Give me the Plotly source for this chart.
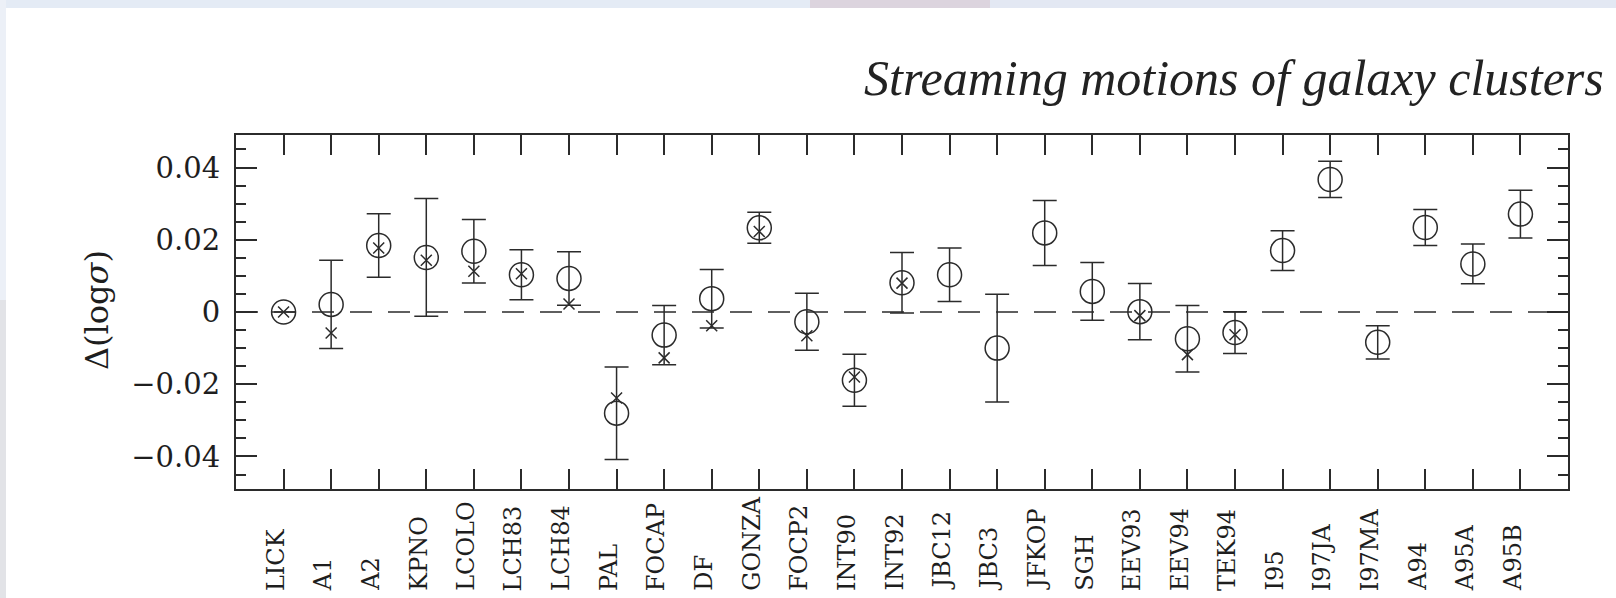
import plotly.graph_objects as go

# Telescope / run identifiers along the x axis
labels = ["LICK", "A1", "A2", "KPNO", "LCOLO", "LCH83", "LCH84", "PAL", "FOCAP",
          "DF", "GONZA", "FOCP2", "INT90", "INT92", "JBC12", "JBC3", "JFKOP",
          "SGH", "EEV93", "EEV94", "TEK94", "I95", "I97JA", "I97MA", "A94",
          "A95A", "A95B"]

# Offset in log(sigma) per run (open circles) and its 1-sigma error
offset = [0.0, 0.0021, 0.0184, 0.0151, 0.0168, 0.0103, 0.0093, -0.0280, -0.0064,
          0.0037, 0.0233, -0.0027, -0.0189, 0.0081, 0.0103, -0.0100, 0.0219,
          0.0057, 0.0001, -0.0074, -0.0057, 0.0170, 0.0367, -0.0084, 0.0234,
          0.0133, 0.0271]
offset_err = [None, 0.0122, 0.0088, 0.0163, 0.0088, 0.0069, 0.0074, 0.0128, 0.0082,
              0.0081, 0.0043, 0.0079, 0.0072, 0.0084, 0.0074, 0.0149, 0.0090,
              0.0080, 0.0078, 0.0092, 0.0058, 0.0055, 0.0050, 0.0046, 0.0050,
              0.0055, 0.0066]

# Alternative offset estimate (crosses), only available for some runs
offset_alt = [0.0, -0.0058, 0.0177, 0.0143, 0.0113, 0.0106, 0.0022, -0.0238, -0.0127,
              -0.0038, 0.0223, -0.0066, -0.0180, 0.0080, None, None, None,
              None, -0.0010, -0.0118, -0.0063, None, None, None, None,
              None, None]

y_ticks = [-0.04, -0.02, 0, 0.02, 0.04]
y_tick_text = ["−0.04", "−0.02", "0", "0.02", "0.04"]

W, H = 1616, 598
ML, MR, MT, MB = 236, 48, 135, 109
PW, PH = W - ML - MR, H - MT - MB
INK = "#2b2b2b"
TXT = "#1e1e1e"
SERIF = "'DejaVu Serif', serif"
TIMES = "'Liberation Serif', 'Times New Roman', serif"


def px_x(px):
    return (px - ML) / PW


def px_y(py):
    return (H - MB - py) / PH


xpos = list(range(1, len(labels) + 1))

fig = go.Figure()

fig.add_trace(go.Scatter(
    x=xpos, y=offset, mode="markers",
    marker=dict(symbol="circle-open", size=24, color=INK, line=dict(width=1.5, color=INK)),
    error_y=dict(type="data", array=[e if e is not None else float("nan") for e in offset_err],
                 visible=True, thickness=1.5, width=12, color=INK),
    showlegend=False, hoverinfo="skip",
))

fig.add_trace(go.Scatter(
    x=xpos, y=offset_alt, mode="markers",
    marker=dict(symbol="x-thin-open", size=11, color=INK, line=dict(width=1.5, color=INK)),
    showlegend=False, hoverinfo="skip",
))

shapes = [
    # zero reference line
    dict(type="line", xref="x", yref="y", x0=0, x1=len(labels) + 1, y0=0, y1=0,
         line=dict(color=INK, width=1.5, dash="22px,16px"), layer="below"),
    # pale backdrop edges around the page
    dict(type="rect", xref="paper", yref="paper", x0=px_x(0), x1=px_x(810),
         y0=px_y(8), y1=px_y(0), fillcolor="#e4ebf5", line=dict(width=0), layer="below"),
    dict(type="rect", xref="paper", yref="paper", x0=px_x(810), x1=px_x(990),
         y0=px_y(8), y1=px_y(0), fillcolor="#dcd4de", line=dict(width=0), layer="below"),
    dict(type="rect", xref="paper", yref="paper", x0=px_x(990), x1=px_x(W),
         y0=px_y(8), y1=px_y(0), fillcolor="#e3e8f3", line=dict(width=0), layer="below"),
    dict(type="rect", xref="paper", yref="paper", x0=px_x(0), x1=px_x(6),
         y0=px_y(300), y1=px_y(0), fillcolor="#ecf0f7", line=dict(width=0), layer="below"),
    dict(type="rect", xref="paper", yref="paper", x0=px_x(0), x1=px_x(6),
         y0=px_y(H), y1=px_y(300), fillcolor="#e2e3e7", line=dict(width=0), layer="below"),
]

annotations = [
    dict(text="<i>Streaming motions of galaxy clusters</i>", xref="paper", yref="paper",
         x=px_x(1606), y=px_y(78), xanchor="right", yanchor="middle", showarrow=False,
         font=dict(family=TIMES, size=50, color="#222")),
    dict(text="Δ(log<i>σ</i>)", xref="paper", yref="paper",
         x=px_x(97), y=px_y(310), xanchor="center", yanchor="middle", showarrow=False,
         textangle=-90, font=dict(family=SERIF, size=32, color=TXT)),
]

# run names: vertical, reading upward, all starting from the same baseline
for xv, name in zip(xpos, labels):
    annotations.append(dict(
        text=name, xref="x", yref="paper", x=xv, y=px_y(592),
        xanchor="right", yanchor="bottom", xshift=7, showarrow=False,
        textangle=-90, borderpad=0,
        font=dict(family=SERIF, size=24, color=TXT),
    ))

fig.update_layout(
    width=W, height=H,
    margin=dict(l=ML, r=MR, t=MT, b=MB, autoexpand=False),
    paper_bgcolor="white", plot_bgcolor="white",
    shapes=shapes, annotations=annotations,
    xaxis=dict(
        range=[0, len(labels) + 1], tickmode="array", tickvals=xpos, ticktext=labels,
        showticklabels=False,
        ticks="inside", ticklen=20, tickwidth=1.5, tickcolor=INK,
        showline=True, linewidth=2, linecolor=INK, mirror="allticks",
        showgrid=False, zeroline=False,
    ),
    yaxis=dict(
        range=[-0.049, 0.049], tickmode="array", tickvals=y_ticks, ticktext=y_tick_text,
        ticks="inside", ticklen=21, tickwidth=1.5, tickcolor=INK,
        minor=dict(ticks="inside", ticklen=10, tickwidth=1.5, tickcolor=INK,
                   tickmode="linear", tick0=0, dtick=0.005, showgrid=False),
        showline=True, linewidth=2, linecolor=INK, mirror="allticks",
        showgrid=False, zeroline=False, ticklabelstandoff=8,
        tickfont=dict(family=SERIF, size=29, color=TXT),
    ),
)

fig.write_html("out.html")
